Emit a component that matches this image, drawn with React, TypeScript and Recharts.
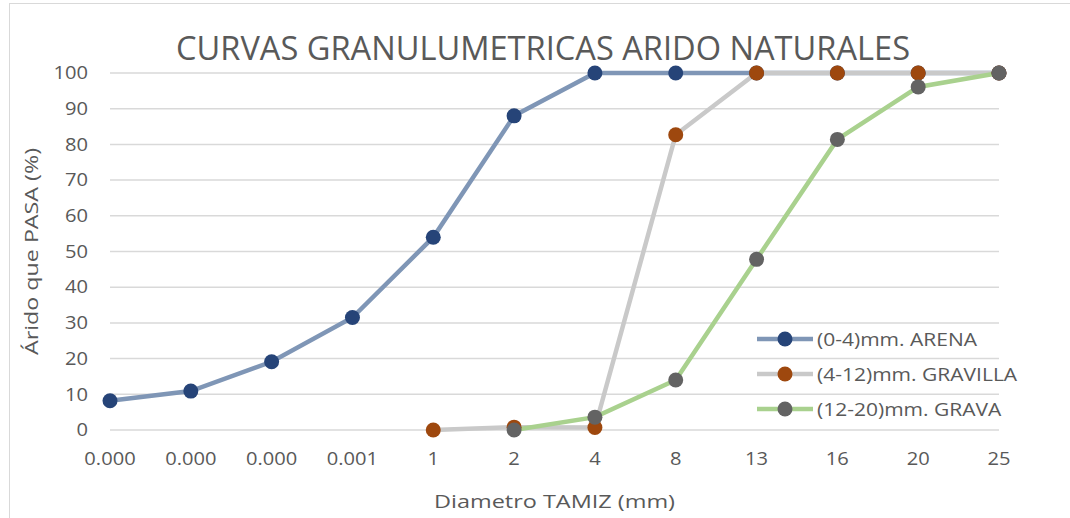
import React from 'react';
import { LineChart, Line, XAxis, YAxis, CartesianGrid, Label } from 'recharts';

// Sieve sizes (mm) as printed on the category axis
const tamices = ['0.000', '0.000', '0.000', '0.001', '1', '2', '4', '8', '13', '16', '20', '25'];

// % passing per aggregate
const arena = [8.2, 10.9, 19.1, 31.5, 54.0, 88.0, 100, 100, 100, 100, 100, 100];
const gravilla = [null, null, null, null, 0, 0.8, 0.7, 82.7, 100, 100, 100, 100];
const grava = [null, null, null, null, null, 0, 3.6, 14.0, 47.8, 81.4, 96.1, 100];

const yTicks = [0, 10, 20, 30, 40, 50, 60, 70, 80, 90, 100];

const series = [
  { key: 'arena', name: '(0-4)mm. ARENA', line: '#7f96b6', marker: '#264478' },
  { key: 'gravilla', name: '(4-12)mm. GRAVILLA', line: '#c9c9c9', marker: '#9e480e' },
  { key: 'grava', name: '(12-20)mm. GRAVA', line: '#a9d18e', marker: '#636363' },
];

const FONT = '"Open Sans", sans-serif';
const TEXT = '#595959';
const GRID = '#d9d9d9';
const WIDEN = 1.15;

const data = tamices.map((t, i) => ({
  tamiz: t,
  arena: arena[i],
  gravilla: gravilla[i],
  grava: grava[i],
}));

// Tick text, slightly widened horizontally
function XTick(props: any) {
  const { x, y, payload } = props;
  return (
    <text
      transform={`translate(${x},${y}) scale(${WIDEN},1)`}
      textAnchor="middle"
      dy="0.71em"
      fontFamily={FONT}
      fontSize={17.5}
      fill={TEXT}
    >
      {payload.value}
    </text>
  );
}

function YTick(props: any) {
  const { x, y, payload } = props;
  return (
    <text
      transform={`translate(${x},${y}) scale(${WIDEN},1)`}
      textAnchor="end"
      dy="0.355em"
      fontFamily={FONT}
      fontSize={17.5}
      fill={TEXT}
    >
      {payload.value}
    </text>
  );
}

function LegendBox() {
  return (
    <div
      style={{
        position: 'absolute',
        left: 757,
        top: 321,
        fontFamily: FONT,
        fontSize: 17.5,
        color: TEXT,
      }}
    >
      {series.map((s) => (
        <div key={s.key} style={{ display: 'flex', alignItems: 'center', height: 35 }}>
          <svg width={56} height={20} style={{ marginRight: 4 }}>
            <line x1={0} y1={10} x2={56} y2={10} stroke={s.line} strokeWidth={4.5} strokeLinecap="round" />
            <circle cx={28} cy={10} r={7.5} fill={s.marker} />
          </svg>
          <span
            style={{
              whiteSpace: 'nowrap',
              display: 'inline-block',
              transform: 'scaleX(1.2)',
              transformOrigin: 'left center',
            }}
          >
            {s.name}
          </span>
        </div>
      ))}
    </div>
  );
}

export default function App() {
  return (
    <div style={{ position: 'absolute', left: 0, top: 0, width: 1070, height: 518, background: '#fff' }}>
      <div
        style={{
          position: 'absolute',
          left: 9,
          top: 3,
          width: 1061,
          height: 515,
          borderTop: `1.5px solid ${GRID}`,
          borderLeft: `1.5px solid ${GRID}`,
        }}
      />
      <svg width={1070} height={80} style={{ position: 'absolute', left: 0, top: 0 }}>
        <text
          x={543}
          y={60}
          textAnchor="middle"
          fontFamily={FONT}
          fontSize={33}
          fill={TEXT}
          textLength={734}
          lengthAdjust="spacingAndGlyphs"
        >
          CURVAS GRANULUMETRICAS ARIDO NATURALES
        </text>
      </svg>
      <div style={{ position: 'absolute', left: 0, top: 0 }}>
        <LineChart width={1070} height={518} data={data} margin={{ top: 73, right: 71, left: 0, bottom: 0 }}>
          <CartesianGrid vertical={false} stroke={GRID} strokeWidth={1.5} />
          <XAxis
            dataKey="tamiz"
            allowDuplicatedCategory
            axisLine={false}
            tickLine={false}
            tickSize={0}
            tickMargin={23}
            height={88}
            tick={<XTick />}
            interval={0}
          >
            <Label
              content={(props: any) => {
                const vb = props.viewBox;
                return (
                  <text
                    x={vb.x + vb.width / 2}
                    y={vb.y + 78}
                    textAnchor="middle"
                    fontFamily={FONT}
                    fontSize={18.5}
                    fill={TEXT}
                    textLength={241}
                    lengthAdjust="spacingAndGlyphs"
                  >
                    Diametro TAMIZ (mm)
                  </text>
                );
              }}
            />
          </XAxis>
          <YAxis
            domain={[0, 100]}
            ticks={yTicks}
            width={110}
            axisLine={false}
            tickLine={false}
            tickSize={0}
            tickMargin={22}
            tick={<YTick />}
          >
            <Label
              content={(props: any) => {
                const vb = props.viewBox;
                const cx = vb.x + 38;
                const cy = vb.y + vb.height / 2;
                return (
                  <text
                    transform={`translate(${cx},${cy}) rotate(-90)`}
                    textAnchor="middle"
                    fontFamily={FONT}
                    fontSize={19}
                    fill={TEXT}
                    textLength={207}
                    lengthAdjust="spacingAndGlyphs"
                  >
                    Árido que PASA (%)
                  </text>
                );
              }}
            />
          </YAxis>
          {series.map((s) => (
            <Line
              key={s.key}
              type="linear"
              dataKey={s.key}
              name={s.name}
              stroke={s.line}
              strokeWidth={4.5}
              dot={{ r: 7.5, fill: s.marker, stroke: s.marker, strokeWidth: 0 }}
              activeDot={false}
              isAnimationActive={false}
            />
          ))}
        </LineChart>
      </div>
      <LegendBox />
    </div>
  );
}
